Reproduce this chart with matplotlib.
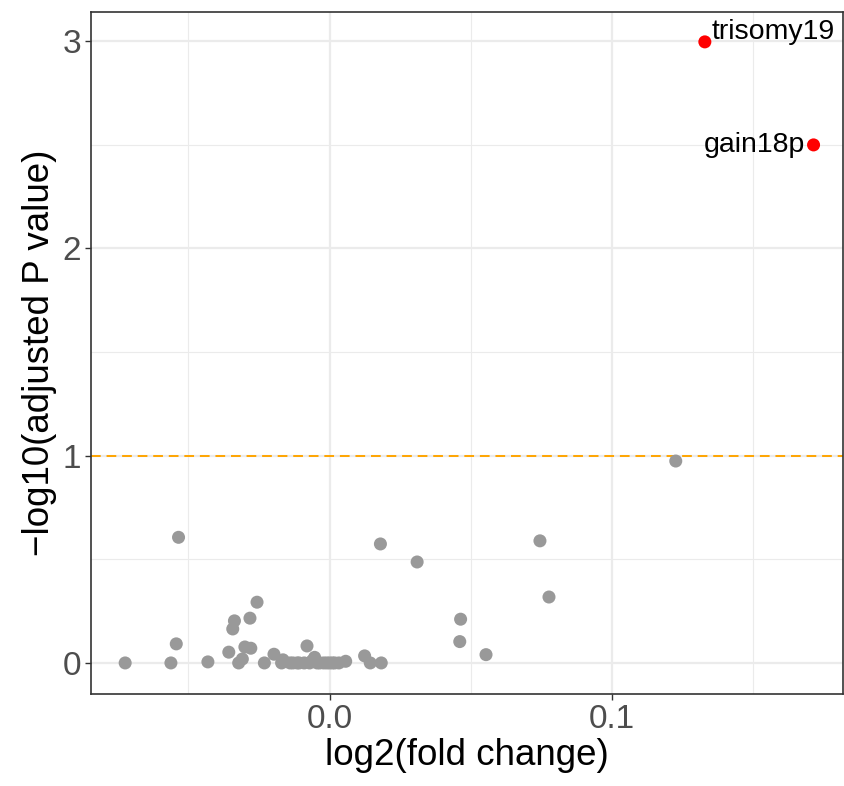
import matplotlib
matplotlib.use("Agg")
import matplotlib.pyplot as plt
from matplotlib.ticker import MultipleLocator

plt.rcParams["font.family"] = ["Liberation Sans", "DejaVu Sans"]

# non-significant regions (grey)
fc_grey = [-0.0724, -0.0562, -0.0543, -0.0535, -0.0431, -0.0357, -0.0343,
           -0.0337, -0.0322, -0.0309, -0.0300, -0.0279, -0.0282, -0.0257,
           -0.0231, -0.0197, -0.0170, -0.0165, -0.0140, -0.0130, -0.0115,
           -0.0108, -0.0090, -0.0080, -0.0071, -0.0062, -0.0053, -0.0044,
           -0.0035, -0.0021, -0.0010, 0.0000, 0.0010, 0.0018, 0.0033,
           0.0057, 0.0124, 0.0144, 0.0183, 0.0180, 0.0310, 0.0464, 0.0461,
           0.0554, 0.0745, 0.0777, 0.1226]
p_grey = [0.0, 0.0, 0.092, 0.606, 0.005, 0.052, 0.164,
          0.203, 0.0, 0.019, 0.077, 0.071, 0.216, 0.293,
          0.0, 0.042, 0.0, 0.015, 0.0, 0.0, 0.0,
          0.0, 0.0, 0.082, 0.0, 0.01, 0.027, 0.0,
          0.0, 0.0, 0.0, 0.0, 0.0, 0.0, 0.0,
          0.008, 0.034, 0.0, 0.0, 0.574, 0.487, 0.211, 0.103,
          0.040, 0.589, 0.318, 0.974]

# significant regions (red)
sig_labels = ["trisomy19", "gain18p"]
fc_sig = [0.1329, 0.1714]
p_sig = [2.996, 2.499]

threshold = 1.0

fig = plt.figure(figsize=(8.45, 7.86), dpi=100)
ax = fig.add_axes([0.1077, 0.117, 0.8905, 0.8677])

ax.scatter(fc_grey, p_grey, s=88, color="#999999", edgecolors="none", zorder=3)
ax.scatter(fc_sig, p_sig, s=88, color="#FF0000", edgecolors="none", zorder=3)
ax.axhline(threshold, color="#FFA500", lw=1.4, ls=(0, (5, 3)), zorder=2)

ax.annotate(sig_labels[0], (fc_sig[0], p_sig[0]), xytext=(5, 7),
            textcoords="offset points", ha="left", va="center", fontsize=20.5)
ax.annotate(sig_labels[1], (fc_sig[1], p_sig[1]), xytext=(-6, 0),
            textcoords="offset points", ha="right", va="center", fontsize=20.5)

ax.set_xlim(-0.0845, 0.182)
ax.set_ylim(-0.15, 3.14)
ax.xaxis.set_major_locator(MultipleLocator(0.1))
ax.xaxis.set_minor_locator(MultipleLocator(0.05))
ax.yaxis.set_major_locator(MultipleLocator(1))
ax.yaxis.set_minor_locator(MultipleLocator(0.5))
ax.set_xticks([0.0, 0.1])
ax.set_xticklabels(["0.0", "0.1"])

ax.grid(which="major", color="#EBEBEB", lw=1.6, zorder=0)
ax.grid(which="minor", color="#EBEBEB", lw=0.8, zorder=0)
ax.set_axisbelow(True)
ax.tick_params(which="major", length=4, width=1, color="#333333",
               labelsize=24, labelcolor="#4D4D4D", pad=3)
ax.tick_params(which="minor", length=0)
for sp in ax.spines.values():
    sp.set_color("#333333")
    sp.set_linewidth(1.2)

ax.set_xlabel("log2(fold change)", fontsize=26.5, labelpad=2)
ax.set_ylabel("\u2212log10(adjusted P value)", fontsize=26.5, labelpad=4)

fig.savefig("out.png", dpi=100)
